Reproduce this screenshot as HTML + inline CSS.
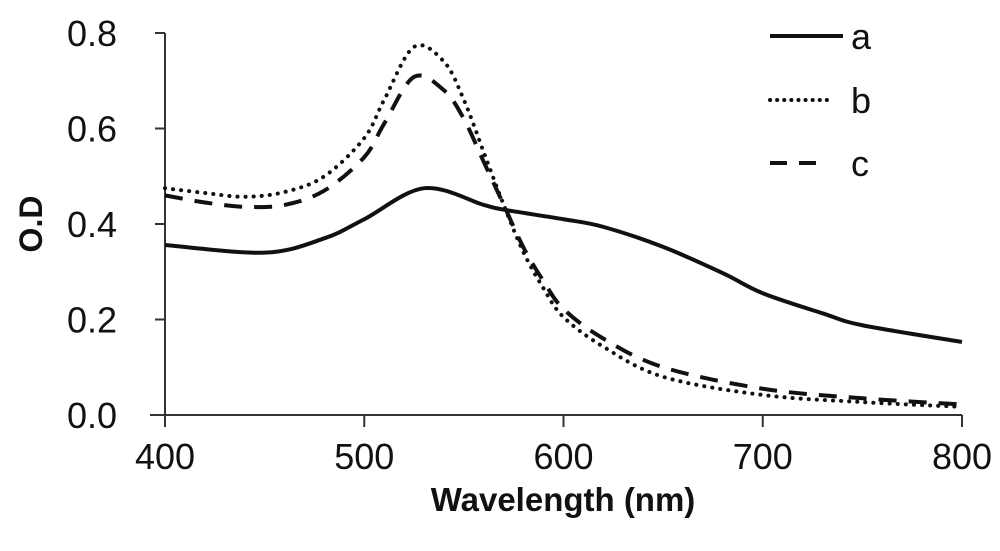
<!DOCTYPE html>
<html><head><meta charset="utf-8"><style>
html,body{margin:0;padding:0;background:#fff;width:1000px;height:551px;overflow:hidden}
svg{display:block;font-family:"Liberation Sans",Arial,sans-serif}
</style></head><body>
<svg id="chart" width="1000" height="551" viewBox="0 0 1000 551"></svg>
<script>
const xTicks=[400,500,600,700,800];
const yTicks=[0.0,0.2,0.4,0.6,0.8];
const yTickLabels=["0.0","0.2","0.4","0.6","0.8"];
const wavelengthsA=[400,450,480,500,530,560,570,600,620,650,680,700,730,750,800];
const seriesA=[0.356,0.34,0.37,0.41,0.475,0.44,0.43,0.41,0.394,0.352,0.297,0.255,0.213,0.188,0.153];
const wavelengthsB=[400,420,440,460,480,500,510,525,540,550,560,570,580,590,600,620,650,700,750,800];
const seriesB=[0.475,0.465,0.457,0.467,0.50,0.58,0.66,0.771,0.74,0.66,0.55,0.44,0.34,0.265,0.205,0.143,0.08,0.042,0.027,0.017];
const wavelengthsC=[400,420,440,460,480,500,510,525,540,550,560,570,580,590,600,620,650,700,750,800];
const seriesC=[0.46,0.445,0.436,0.44,0.47,0.54,0.61,0.708,0.68,0.62,0.53,0.44,0.35,0.28,0.222,0.16,0.1,0.055,0.035,0.022];
const NS="http://www.w3.org/2000/svg";
const svg=document.getElementById('chart');
const X0=165,X1=962,Y0=415,Y1=33;
const xs=v=>X0+(v-400)/400*(X1-X0);
const ys=v=>Y0-v/0.8*(Y0-Y1);
function mk(t,a,p){const e=document.createElementNS(NS,t);for(const k in a)e.setAttribute(k,a[k]);(p||svg).appendChild(e);return e;}
const ax=mk('g',{});


let l=mk('line',{x1:X0,y1:Y1,x2:X0,y2:Y0,stroke:'#333','stroke-width':2},ax);


l=mk('line',{x1:150,y1:Y0,x2:X1,y2:Y0,stroke:'#333','stroke-width':2},ax);


yTicks.forEach((v,i)=>{
  const tk=mk('line',{x1:X0-10,y1:ys(v),x2:X0,y2:ys(v),stroke:'#333','stroke-width':2},ax);
  
  
  const t=mk('text',{x:117,y:ys(v)+13,'text-anchor':'end','font-size':36,fill:'#111'},ax);
  t.textContent=yTickLabels[i];
  
  
});
xTicks.forEach(v=>{
  const tk=mk('line',{x1:xs(v),y1:Y0,x2:xs(v),y2:Y0+12,stroke:'#333','stroke-width':2},ax);
  
  
  const t=mk('text',{x:xs(v),y:469,'text-anchor':'middle','font-size':36,fill:'#111'},ax);
  t.textContent=String(v);
  
  
});
let t=mk('text',{x:563,y:511,'text-anchor':'middle','font-size':33,'font-weight':'bold',fill:'#111'});
t.textContent='Wavelength (nm)';


t=mk('text',{x:0,y:0,'text-anchor':'middle','font-size':32,'font-weight':'bold',fill:'#111',transform:'translate(42,224) rotate(-90)'});
t.textContent='O.D';


function pathFor(wx,vals){
  const p=wx.map((w,i)=>[xs(w),ys(vals[i])]);
  let d='M'+p[0][0]+','+p[0][1];
  for(let i=0;i<p.length-1;i++){
    const p0=p[Math.max(0,i-1)],p1=p[i],p2=p[i+1],p3=p[Math.min(p.length-1,i+2)];
    const c1=[p1[0]+(p2[0]-p0[0])/6,p1[1]+(p2[1]-p0[1])/6];
    const c2=[p2[0]-(p3[0]-p1[0])/6,p2[1]-(p3[1]-p1[1])/6];
    d+=' C'+c1+' '+c2+' '+p2;
  }
  return d;
}
const sp=mk('path',{d:pathFor(wavelengthsA,seriesA),fill:'none',stroke:'#111','stroke-width':4});


const sb=mk('path',{d:pathFor(wavelengthsB,seriesB),fill:'none',stroke:'#111','stroke-width':4,'stroke-dasharray':'0.1 8','stroke-linecap':'round'});


const sc=mk('path',{d:pathFor(wavelengthsC,seriesC),fill:'none',stroke:'#111','stroke-width':4,'stroke-dasharray':'18 12'});


const lg=mk('g',{});


[['a',36,{}],['b',100,{'stroke-dasharray':'0.1 7','stroke-linecap':'round'}],['c',163,{'stroke-dasharray':'17 12'}]].forEach(([n,y,extra])=>{
  const a=Object.assign({x1:770,y1:y,x2:n==='a'?843:828,y2:y,stroke:'#111','stroke-width':4},extra);
  const ln=mk('line',a,lg);
  
  
  const tx=mk('text',{x:851,y:y+13,'font-size':36,fill:'#111'},lg);
  tx.textContent=n;
  
  
});
</script>
</body></html>
